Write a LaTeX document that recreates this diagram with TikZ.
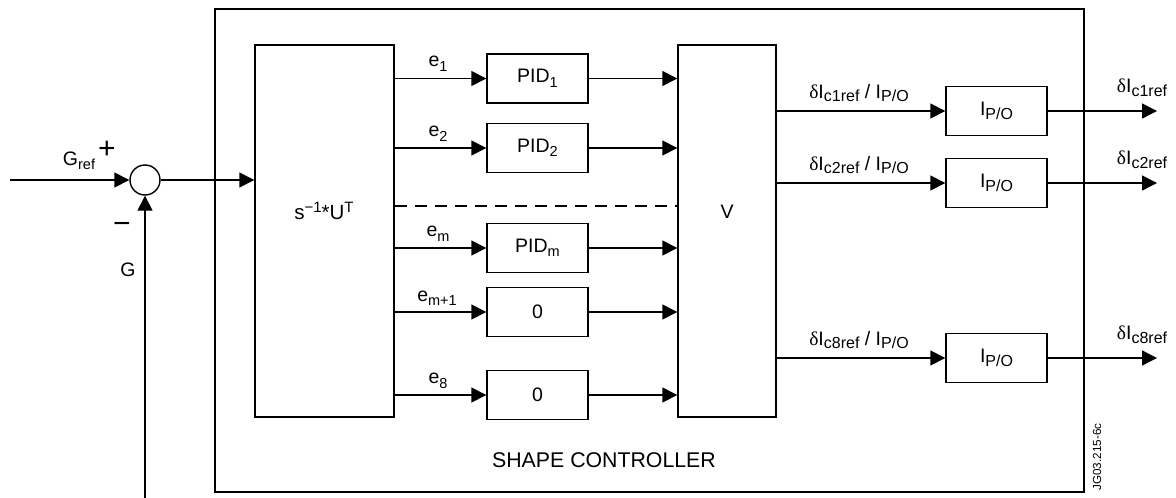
\documentclass[tikz,border=0pt]{standalone}
\usepackage{fontspec}
\setmainfont{Liberation Sans}
\newfontfamily\grk{Liberation Serif}
\usetikzlibrary{arrows.meta,calc}
\newcommand\sbs[1]{\raisebox{-4.5pt}{\fontsize{14.5}{14.5}\selectfont #1}}
\newcommand\sbl[1]{\raisebox{-3.8pt}{\fontsize{16}{16}\selectfont #1}}
\newcommand\sps[1]{\raisebox{6.5pt}{\fontsize{15}{15}\selectfont #1}}
\newcommand\dI{{\grk δ}I}
\begin{document}
\begin{tikzpicture}[x=1pt,y=-1pt,line width=1.4pt,
  font=\fontsize{19.5}{22}\selectfont,
  blk/.style={draw, minimum width=101pt, minimum height=49pt, inner sep=0pt},
  arr/.style={-{Triangle[length=15pt,width=15pt]}},
  lbl/.style={inner sep=0pt}]
\useasboundingbox (0,0) rectangle (1176,498);
% outer box
\node[draw, minimum width=869pt, minimum height=483pt, inner sep=0pt] (ctrl) at (649.5,250.5) {};
\node[lbl, font=\fontsize{21.3}{23}\selectfont] (ctrlt) at (604,460) {SHAPE CONTROLLER};
\node[lbl, rotate=90, font=\fontsize{11.7}{12}\selectfont] (jg) at (1097,457) {JG03.215-6c};
% big blocks
\node[draw, minimum width=139pt, minimum height=372pt, inner sep=0pt] (U) at (324.5,231) {};
\node[lbl, font=\fontsize{20.5}{22}\selectfont] (Ut) at (324,211) {s\sps{−1}*U\sps{T}};
\node[draw, minimum width=98pt, minimum height=372pt, inner sep=0pt] (V) at (727,231) {};
\node[lbl] (Vt) at (727,212) {V};
% PID boxes
\node[blk] (P1) at (537.5,78.5) {PID\sbs{1}};
\node[blk] (P2) at (537.5,148) {PID\sbs{2}};
\node[blk] (Pm) at (537.5,248) {PID\sbs{m}};
\node[blk] (Z1) at (537.5,312) {0};
\node[blk] (Z8) at (537.5,395) {0};
\foreach \b in {P1,P2,Pm,Z1,Z8}{
  \draw[arr] (U.east |- \b) -- (\b.west);
  \draw[arr] (\b.east) -- (V.west |- \b);
}
\node[lbl] (e1) at (438,64) {e\sbs{1}};
\node[lbl] (e2) at (438,134) {e\sbs{2}};
\node[lbl] (em) at (438,234) {e\sbs{m}};
\node[lbl] (em1) at (437,298) {e\sbs{m+1}};
\node[lbl] (e8) at (438,381) {e\sbs{8}};
\coordinate (dl) at (0,206);
\draw[dashed, dash pattern=on 12pt off 8pt, line width=1.1pt] (U.east |- dl) -- (V.west |- dl);
% output boxes
\node[blk] (O1) at (996.5,111) {I\sbl{P/O}};
\node[blk] (O2) at (996.5,183) {I\sbl{P/O}};
\node[blk] (O8) at (996.5,358) {I\sbl{P/O}};
\coordinate (out1) at (1157,111);
\coordinate (out2) at (1157,183);
\coordinate (out8) at (1157,358);
\draw[arr] (V.east |- O1) -- (O1.west);
\draw[arr] (V.east |- O2) -- (O2.west);
\draw[arr] (V.east |- O8) -- (O8.west);
\draw[arr] (O1.east) -- (out1);
\draw[arr] (O2.east) -- (out2);
\draw[arr] (O8.east) -- (out8);
\node[lbl] (l1) at (859,93) {\dI\sbl{c1ref} / I\sbl{P/O}};
\node[lbl] (l2) at (859,165) {\dI\sbl{c2ref} / I\sbl{P/O}};
\node[lbl] (l8) at (859,340) {\dI\sbl{c8ref} / I\sbl{P/O}};
\node[lbl] (r1) at (1142,88) {\dI\sbl{c1ref}};
\node[lbl] (r2) at (1142,160) {\dI\sbl{c2ref}};
\node[lbl] (r8) at (1142,335) {\dI\sbl{c8ref}};
% summing junction
\node[draw, circle, minimum size=30pt, inner sep=0pt] (S) at (145,180) {};
\coordinate (in) at (10,180);
\coordinate (gb) at (145,498);
\draw[arr] (in) -- (S.west);
\draw[arr] (S.east) -- (U.west |- S);
\draw[arr] (gb) -- (S.south);
\node[lbl] (gref) at (79,161) {G\sbs{ref}};
\node[lbl, font=\fontsize{30}{30}\selectfont] (plus) at (107,150) {+};
\node[lbl, font=\fontsize{30}{30}\selectfont] (minus) at (122,228) {−};
\node[lbl] (g) at (128,270) {G};
\end{tikzpicture}
\end{document}
